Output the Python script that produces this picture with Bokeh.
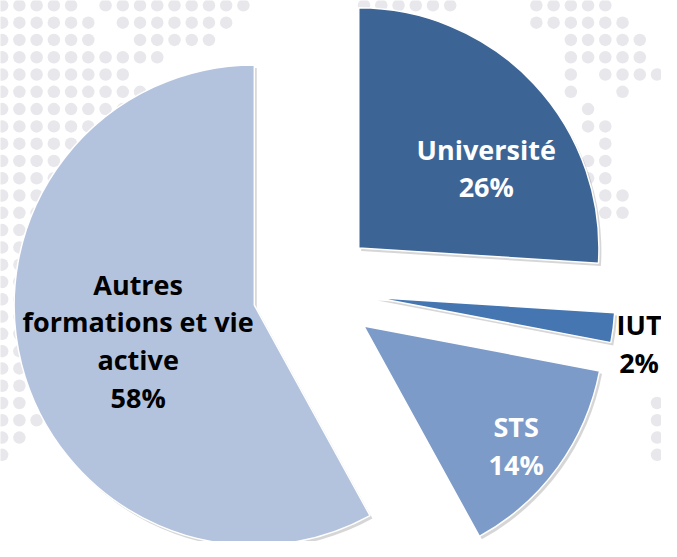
import numpy as np
from bokeh.plotting import figure
from bokeh.models import Range1d
from bokeh.core.properties import value
from bokeh.embed import file_html
from bokeh.resources import INLINE

# ---------------- data ----------------
categories = ["Université", "IUT", "STS", "Autres formations et vie active"]
shares = [26, 2, 14, 58]
label_lines = [["Université", "26%"], ["IUT", "2%"], ["STS", "14%"],
               ["Autres", "formations et vie", "active", "58%"]]

# ---------------- style ----------------
slice_colors = ["#3C6596", "#4676B2", "#7D9BC8", "#B4C3DD"]
label_colors = ["white", "black", "white", "black"]
W, H = 677, 557                      # reference coordinate frame
CX, CY = 321, 298                    # pie centre (px, y down)
R = 246                              # radius
EXPLODE = 63                         # explosion distance
label_r = [160, 273, 193, 122]       # label distance from slice centre
label_dang = [7.9, 0.6, 0.0, 1.7]    # small angular tweak (deg)
PITCH = 39
FONT = "Open Sans"
FSIZE = "27px"
DOT_COLOR = "#E8E8EC"

# background dotted map: rows -> column ranges
dot_rows = {
    0: [(0, 4), (6, 14), (21, 26), (31, 35)],
    1: [(0, 5), (7, 13), (31, 36)],
    2: [(0, 5), (8, 12), (33, 37)],
    3: [(0, 9), (33, 37)],
    4: [(0, 7), (33, 33), (35, 38)],
    5: [(0, 8), (33, 33), (36, 36)],
    6: [(0, 8), (34, 34)],
    7: [(0, 8), (34, 35)],
    8: [(0, 8), (35, 35)],
    9: [(0, 8), (34, 35)],
    10: [(0, 8), (34, 35)],
    11: [(0, 8), (35, 36)],
    12: [(0, 8), (35, 36)],
    13: [(0, 8)],
    14: [(0, 1)], 15: [(0, 1)], 16: [(0, 1)], 17: [(0, 1)], 18: [(0, 1)],
    19: [(0, 1)], 20: [(0, 1)], 21: [(0, 1)], 22: [(0, 1)],
    23: [(0, 1), (38, 38)],
    24: [(0, 2), (38, 38)],
    25: [(0, 1), (38, 38)],
    26: [(0, 0), (38, 38)],
}
DX0, DXS = 1.7, 17.65
DY0, DYS = 5.0, 17.8

p = figure(width=661, height=541, x_range=Range1d(0, W), y_range=Range1d(0, H),
           output_backend="svg", toolbar_location=None, min_border=0)
p.axis.visible = False
p.grid.visible = False
p.outline_line_color = None
p.background_fill_color = "white"
p.border_fill_color = "white"

# dots
dx, dy = [], []
for r, ranges in dot_rows.items():
    for a, b in ranges:
        for c in range(a, b + 1):
            dx.append(DX0 + DXS * c)
            dy.append(H - (DY0 + DYS * r))
p.scatter(dx, dy, size=12.5, fill_color=DOT_COLOR, line_color=None)

# pie geometry from data
vals = np.array(shares, dtype=float)
frac = vals / vals.sum()
cum_end = np.cumsum(frac)
cum_start = cum_end - frac
mid = (cum_start + cum_end) / 2

cy_data = H - CY
for i in range(len(shares)):
    theta_mid = np.pi / 2 - mid[i] * 2 * np.pi
    sx = CX + EXPLODE * np.cos(theta_mid)
    sy = cy_data + EXPLODE * np.sin(theta_mid)
    start = np.pi / 2 - cum_end[i] * 2 * np.pi
    end = np.pi / 2 - cum_start[i] * 2 * np.pi
    # shadow
    p.wedge(x=sx + 2.5, y=sy - 3, radius=R, start_angle=start, end_angle=end,
            fill_color="#000000", fill_alpha=0.16, line_color=None)
    p.wedge(x=sx, y=sy, radius=R, start_angle=start, end_angle=end,
            fill_color=slice_colors[i], line_color="white", line_width=1.5)
    # labels
    th = theta_mid - np.deg2rad(label_dang[i])
    lx = sx + label_r[i] * np.cos(th)
    ly = sy + label_r[i] * np.sin(th)
    lines = label_lines[i]
    n = len(lines)
    ys = [ly - ((k - (n - 1) / 2) * PITCH + 10) for k in range(n)]
    p.text(x=[lx] * n, y=ys, text=lines, text_align="center",
           text_baseline="alphabetic", text_font=value(FONT),
           text_font_style="bold", text_font_size=FSIZE,
           text_color=label_colors[i])

open("out.html", "w").write(file_html(p, INLINE))
